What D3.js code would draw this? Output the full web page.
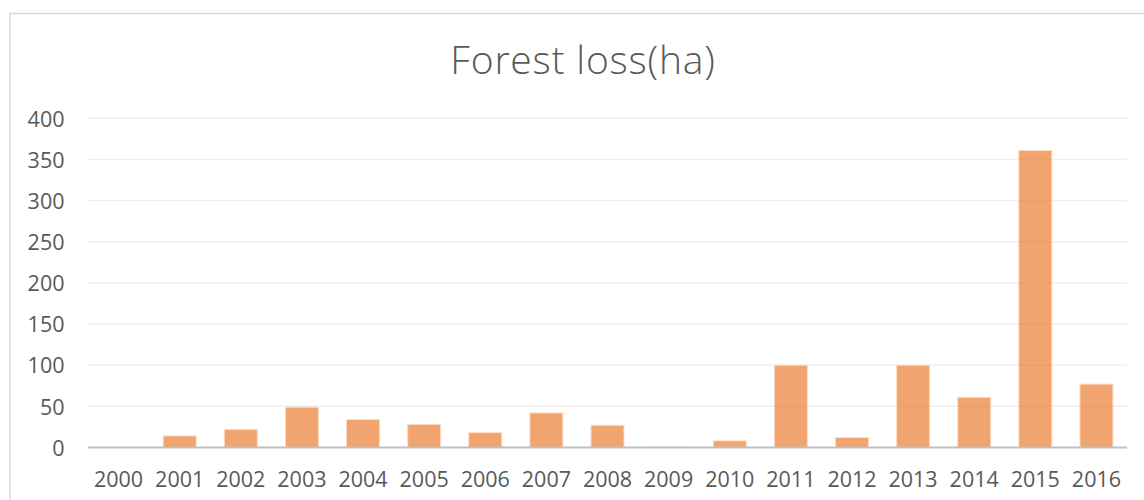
<!DOCTYPE html>
<html>
<head>
<meta charset="utf-8">
<script src="https://cdn.jsdelivr.net/npm/d3@7"></script>
<style>
  html, body { margin: 0; padding: 0; background: #fff; }
  svg { display: block; }
  text { font-family: "Open Sans", sans-serif; fill: #595959; }
</style>
</head>
<body>
<div id="chart"></div>
<script>
// Annual forest loss in hectares
const years = ["2000", "2001", "2002", "2003", "2004", "2005", "2006", "2007", "2008",
               "2009", "2010", "2011", "2012", "2013", "2014", "2015", "2016"];
const lossHa = [0, 14, 22, 49, 34, 28, 18, 42, 27, 0.5, 8, 100, 12, 100, 61, 361, 77];
const yTicks = [0, 50, 100, 150, 200, 250, 300, 350, 400];
const titleText = "Forest loss(ha)";

const W = 1144, H = 500;
const plot = { left: 88, right: 1127, top: 118.3, bottom: 447.5 };

const svg = d3.select("#chart").append("svg")
  .attr("width", W).attr("height", H);

// chart area frame
svg.append("rect")
  .attr("x", 10).attr("y", 13.5)
  .attr("width", W + 20).attr("height", H + 20)
  .attr("fill", "none").attr("stroke", "#d9d9d9").attr("stroke-width", 1.5);

const x = d3.scaleBand().domain(years)
  .range([plot.left, plot.right]).paddingInner(0.46).paddingOuter(0.23);
const y = d3.scaleLinear().domain([0, 400]).range([plot.bottom, plot.top]);

// horizontal gridlines
svg.append("g")
  .selectAll("line").data(yTicks.filter(d => d > 0)).join("line")
  .attr("x1", plot.left).attr("x2", plot.right)
  .attr("y1", d => y(d)).attr("y2", d => y(d))
  .attr("stroke", "#eeeeee").attr("stroke-width", 1.5);

// bars
svg.append("g")
  .selectAll("rect").data(years).join("rect")
  .attr("x", d => x(d))
  .attr("width", x.bandwidth())
  .attr("y", (d, i) => y(lossHa[i]))
  .attr("height", (d, i) => y(0) - y(lossHa[i]))
  .attr("fill", "#ED7D31").attr("fill-opacity", 0.7)
  .attr("stroke", "#fbdcc6").attr("stroke-width", 1);

// baseline
svg.append("line")
  .attr("x1", plot.left).attr("x2", plot.right)
  .attr("y1", y(0)).attr("y2", y(0))
  .attr("stroke", "#bfbfbf").attr("stroke-width", 2.2);

// y axis labels
const yAxis = d3.axisLeft(y).tickValues(yTicks).tickSize(0).tickPadding(0);
const gy = svg.append("g").attr("transform", "translate(64.5,0)").call(yAxis);
gy.select(".domain").remove();
gy.selectAll("text")
  .attr("font-size", 21.5).attr("font-family", "Open Sans, sans-serif")
  .attr("fill", "#595959").attr("dy", "0.36em");

// x axis labels
const xAxis = d3.axisBottom(x).tickSize(0).tickPadding(0);
const gx = svg.append("g").attr("transform", `translate(0,${y(0)})`).call(xAxis);
gx.select(".domain").remove();
gx.selectAll("text")
  .attr("font-size", 21.5).attr("font-family", "Open Sans, sans-serif")
  .attr("fill", "#595959").attr("dy", 0).attr("y", 39.5);

// title
svg.append("text")
  .attr("x", 583).attr("y", 73.5)
  .attr("text-anchor", "middle")
  .attr("font-size", 39)
  .attr("font-weight", 300)
  .attr("letter-spacing", 0.8)
  .attr("fill", "#595959")
  .text(titleText);
</script>
</body>
</html>
